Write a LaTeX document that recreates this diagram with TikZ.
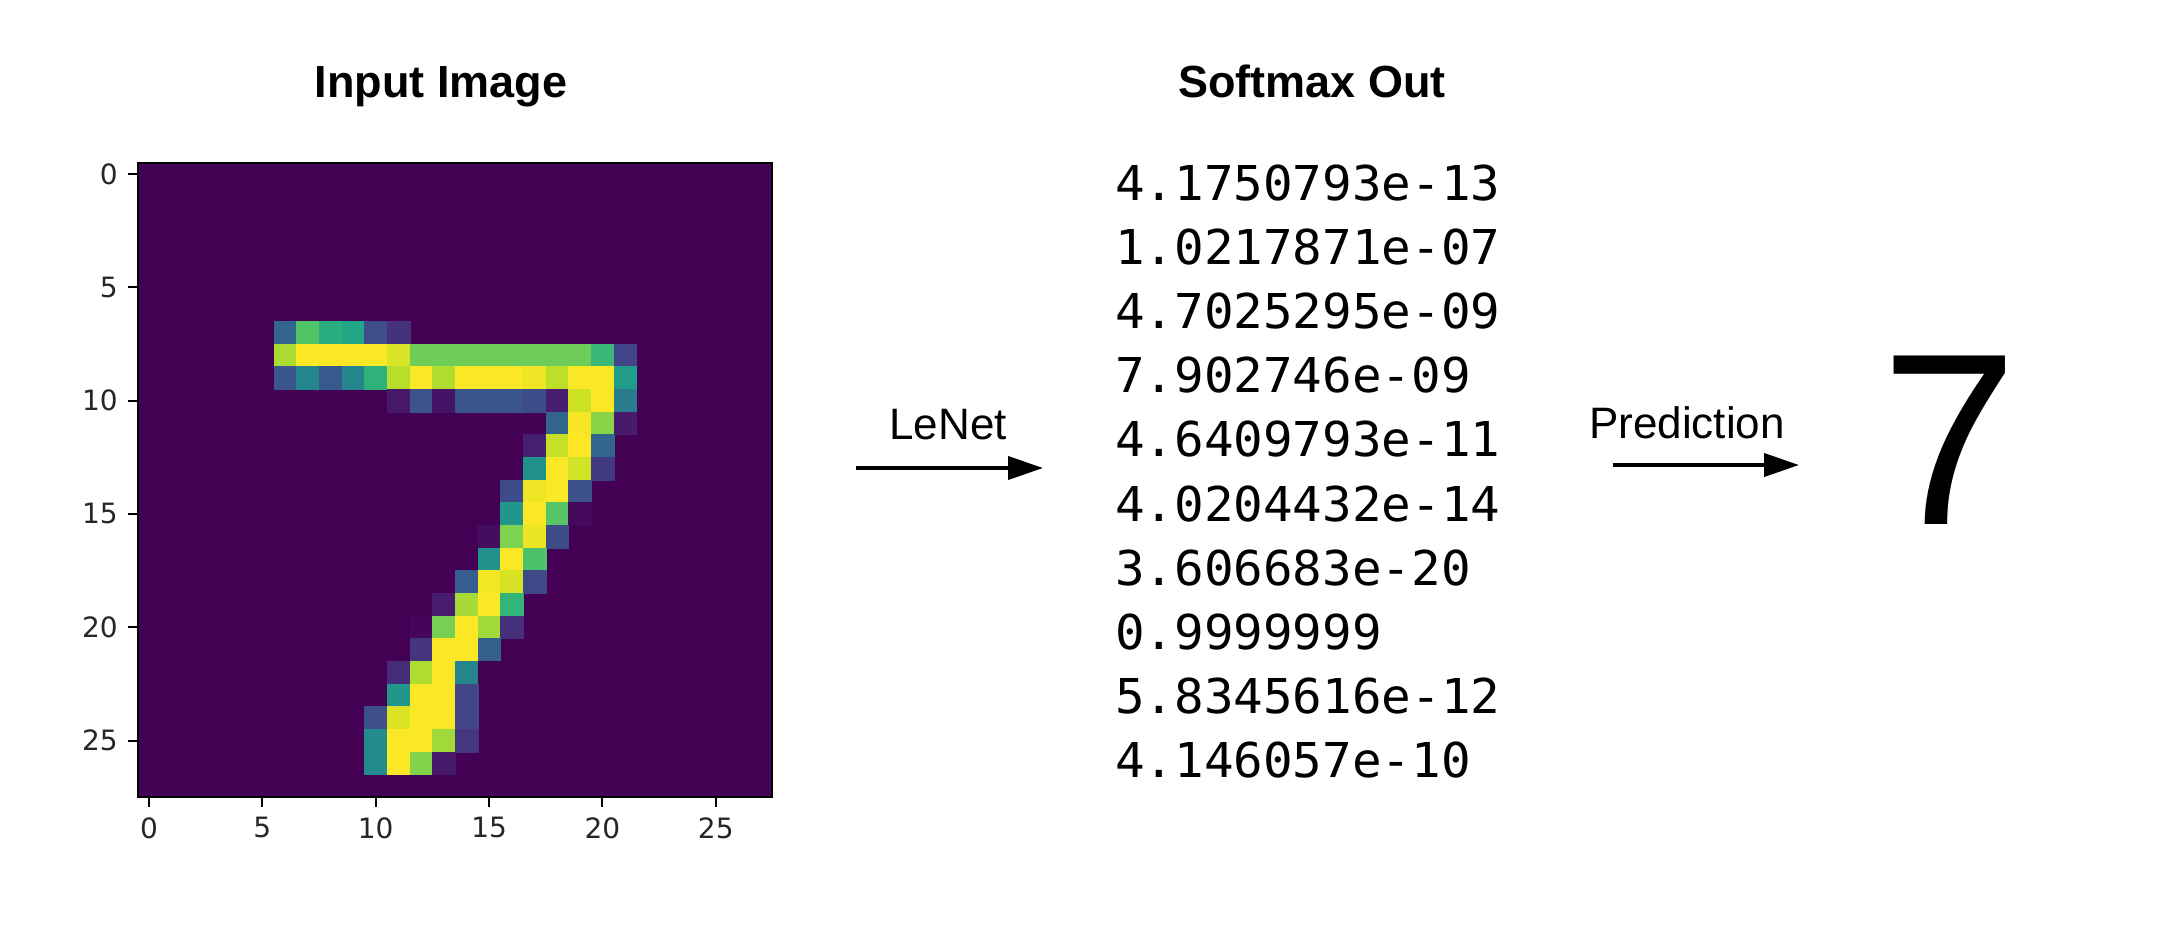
\documentclass[tikz,border=0pt]{standalone}
\usepackage{fontspec}
\setmainfont{Liberation Sans}
\newfontfamily\probfont[FakeStretch=1.025]{DejaVu Sans Mono}
\newfontfamily\tickfont{DejaVu Sans}
\usetikzlibrary{arrows.meta}

% viridis stops, 0.0 ... 1.0
\definecolor{vir0}{HTML}{440154}
\definecolor{vir1}{HTML}{482475}
\definecolor{vir2}{HTML}{414487}
\definecolor{vir3}{HTML}{355F8D}
\definecolor{vir4}{HTML}{2A788E}
\definecolor{vir5}{HTML}{21918C}
\definecolor{vir6}{HTML}{22A884}
\definecolor{vir7}{HTML}{44BF70}
\definecolor{vir8}{HTML}{7AD151}
\definecolor{vir9}{HTML}{BDDF26}
\definecolor{vir10}{HTML}{FDE725}

\tikzset{
  title/.style={font=\bfseries\fontsize{45}{54}\selectfont, inner sep=0pt, anchor=base},
  steplabel/.style={font=\fontsize{44}{52}\selectfont, inner sep=0pt, anchor=base},
  prob/.style={font=\probfont\fontsize{48}{56}\selectfont, inner sep=0pt, anchor=base west},
  ticklab/.style={font=\tickfont\fontsize{28}{32}\selectfont, text=black!85, inner sep=0pt},
  flow/.style={line width=4pt, -{Triangle[length=35pt,width=23pt]}}
}

\begin{document}
\begin{tikzpicture}[x=1pt, y=-1pt]
    \useasboundingbox (0,0) rectangle (2159,930);

    \node[title] (intitle) at (441,97) {Input Image};
    \node[title] (smtitle) at (1312,97) {Softmax Out};

    % the 28x28 input digit, viridis colours
    \begin{scope}[shift={(137.7,162.5)}, x=22.67pt, y=-22.67pt]
        \fill[vir0] (0,0) rectangle (28,28);
        \foreach \row/\col/\vals in {
            7/6/{84,185,159,151,60,36},
            8/6/{222,254,254,254,254,241,198,198,198,198,198,198,198,198,170,52},
            9/6/{67,114,72,114,163,227,254,225,254,254,254,250,229,254,254,140},
            10/11/{17,66,14,67,67,67,59,21,236,254,106},
            11/18/{83,253,209,18},
            12/17/{22,233,255,83},
            13/17/{129,254,238,44},
            14/16/{59,249,254,62},
            15/16/{133,254,187,5},
            16/15/{9,205,248,58},
            17/15/{126,254,182},
            18/14/{75,251,240,57},
            19/13/{19,221,254,166},
            20/12/{3,203,254,219,35},
            21/12/{38,254,254,77},
            22/11/{31,224,254,115,1},
            23/11/{133,254,254,52},
            24/10/{61,242,254,254,52},
            25/10/{121,254,254,219,40},
            26/10/{121,254,207,18}} {
            \foreach \v [count=\i from 0] in \vals {
                \pgfmathtruncatemacro\lo{min(9,floor(\v/25.5))}
                \pgfmathtruncatemacro\hi{\lo+1}
                \pgfmathtruncatemacro\pc{round(100*(\v/25.5-\lo))}
                \colorlet{pxcol}{vir\hi!\pc!vir\lo}
                \filldraw[pxcol, line width=0.4pt] (\col+\i,\row) rectangle ++(1,1);
            }
        }
        \draw[line width=2pt] (0,0) rectangle (28,28);

        % axis ticks
        \foreach \n in {0,5,...,25} {
            \draw[line width=2pt] (0,\n+0.5) -- ++(-10pt,0)
                node[ticklab, anchor=east, xshift=-9pt] (yt\n) {\n};
            \draw[line width=2pt] (\n+0.5,28) -- ++(0,-10pt)
                node[ticklab, anchor=north, yshift=-9pt] (xt\n) {\n};
        }
    \end{scope}

    % LeNet step
    \node[steplabel] (lenet) at (948,439) {LeNet};
    \coordinate (netin) at (856,468);
    \coordinate (netout) at (1043,468);
    \draw[flow] (netin) -- (netout);

    % softmax output
    \foreach \val [count=\k] in {4.1750793e-13, 1.0217871e-07, 4.7025295e-09,
        7.902746e-09, 4.6409793e-11, 4.0204432e-14, 3.606683e-20,
        0.9999999, 5.8345616e-12, 4.146057e-10} {
        \node[prob] (sm\k) at ({1115},{200+64.2*(\k-1)}) {\val};
    }

    % prediction step
    \node[steplabel] (pred) at (1687,438) {Prediction};
    \coordinate (predin) at (1613,465);
    \coordinate (predout) at (1799,465);
    \draw[flow] (predin) -- (predout);

    \node[font=\fontsize{245}{250}\selectfont, inner sep=0pt, anchor=base] (digit) at (1950,524) {7};
\end{tikzpicture}
\end{document}
